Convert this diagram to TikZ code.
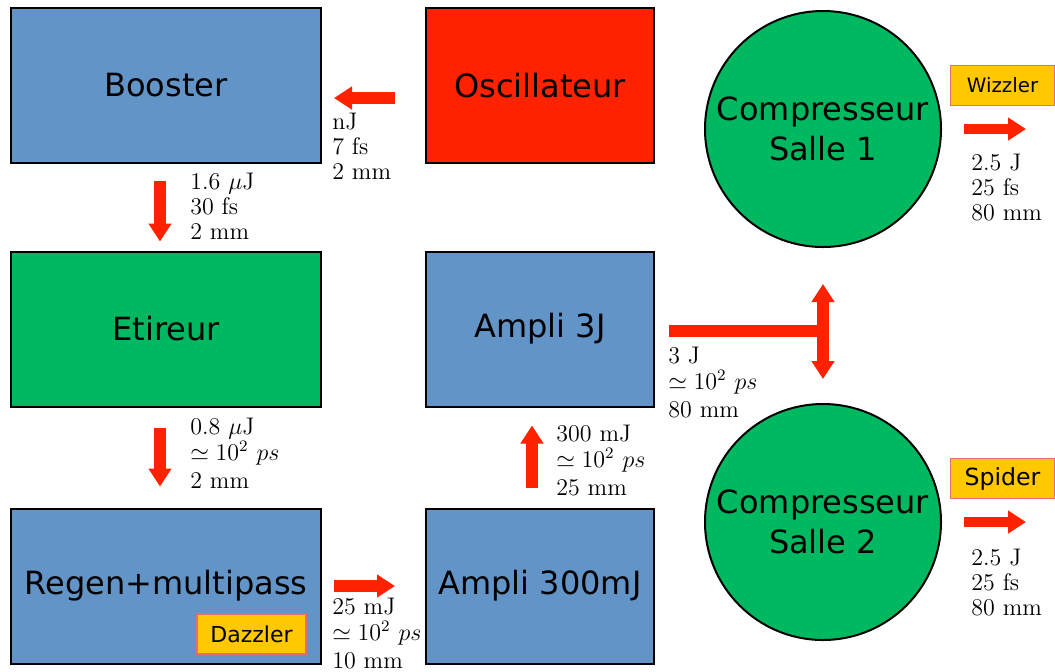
\documentclass[tikz,border=0pt]{standalone}
\usepackage{fontspec}
\usepackage{amsmath,amssymb}
\usetikzlibrary{arrows.meta,positioning}
\newfontfamily\boxfont{DejaVu Sans}
\definecolor{laserblue}{HTML}{6294C8}
\definecolor{lasergreen}{HTML}{00B860}
\definecolor{laserred}{HTML}{FF2200}
\definecolor{tagyellow}{HTML}{FFC800}
\definecolor{tagborder}{HTML}{E07070}

\begin{document}
\begin{tikzpicture}[
  x=0.5pt, y=-0.5pt,
  stage/.style={draw=black, line width=1pt, fill=laserblue, align=center, minimum width=155pt, minimum height=77.5pt, font=\boxfont\fontsize{16}{20}\selectfont},
  wide/.style={stage, minimum width=114pt},
  comp/.style={circle, draw=black, line width=1pt, fill=lasergreen, align=center, minimum size=118pt, inner sep=0pt, font=\boxfont\fontsize{16}{20}\selectfont},
  flow/.style={-{Triangle[length=9pt,width=11pt]}, line width=6pt, draw=laserred},
  bar/.style={line width=6pt, draw=laserred},
  info/.style={font=\fontsize{12}{12.4}\selectfont, align=left, anchor=north west, inner sep=0pt},
  tag/.style={draw=tagborder, fill=tagyellow, line width=0.7pt, minimum width=52pt, minimum height=20pt, inner sep=0pt, font=\boxfont\fontsize{11}{13}\selectfont}
]
\useasboundingbox (0,0) rectangle (1055,671);

% stages
\node[stage] (booster) at (166,85.5) {Booster};
\node[wide, fill=laserred] (osc) at (540,85.5) {Oscillateur};
\node[stage, fill=lasergreen] (etireur) at (166,329) {Etireur};
\node[wide] (amp3) at (540,329) {Ampli 3J};
\node[stage] (regen) at (166,586) {Regen+multipass};
\node[wide] (amp300) at (540,586) {Ampli 300mJ};
\node[comp] (salle1) at (823,129) {Compresseur\\Salle 1};
\node[comp] (salle2) at (823,522) {Compresseur\\Salle 2};

% diagnostics
\node[tag, font=\boxfont\fontsize{9.9}{11}\selectfont] (wizzler) at (1002.5,85.5) {Wizzler};
\node[tag, font=\boxfont\fontsize{11.8}{13}\selectfont] (spider) at (1002.5,478.5) {Spider};
\node[tag, minimum width=54.5pt] (dazzler) at (251.5,634) {Dazzler};

% beam path
\draw[flow, shorten <=15pt, shorten >=6pt] ([yshift=-6.25pt]osc.west) -- ([yshift=-6.25pt]booster.east);
\draw[flow, shorten <=8.5pt, shorten >=4.5pt] ([xshift=-3pt]booster.south) -- ([xshift=-3pt]etireur.north);
\draw[flow, shorten <=10pt, shorten >=10.5pt] ([xshift=-3pt]etireur.south) -- ([xshift=-3pt]regen.north);
\draw[flow, shorten <=6pt, shorten >=15pt] (regen.east) -- (amp300.west);
\draw[flow, shorten <=10pt, shorten >=9pt] ([xshift=-4pt]amp300.north) -- ([xshift=-4pt]amp3.south);
\draw[bar, shorten <=7pt, shorten >=-3pt] ([yshift=-1pt]amp3.east) -- ([yshift=-1pt]amp3.east -| salle1.south);
\draw[flow, {Triangle[length=9pt,width=11pt]}-{Triangle[length=9pt,width=11pt]}, shorten <=18pt, shorten >=12pt] (salle1.south) -- (salle2.north);
\coordinate (out1) at (1026,129);
\coordinate (out2) at (1026,522);
\draw[flow, line width=5pt, shorten <=11pt] (salle1.east) -- (out1);
\draw[flow, line width=5pt, shorten <=11pt] (salle2.east) -- (out2);

% beam parameters
\node[info] (p0) at (332,113) {nJ\\7 fs\\2 mm};
\node[info] (p1) at (190,173) {1.6 $\mu$J\\30 fs\\2 mm};
\node[info] (p2) at (190,418) {0.8 $\mu$J\\[0.5pt]$\simeq 10^2$ $ps$\\[1.5pt]2 mm};
\node[info] (p3) at (332,598) {25 mJ\\[0.5pt]$\simeq 10^2$ $ps$\\[1.5pt]10 mm};
\node[info] (p4) at (556,425) {300 mJ\\[0.5pt]$\simeq 10^2$ $ps$\\[1.5pt]25 mm};
\node[info] (p5) at (668,347) {3 J\\[0.5pt]$\simeq 10^2$ $ps$\\[1.5pt]80 mm};
\node[info] (p6) at (971,154) {2.5 J\\25 fs\\80 mm};
\node[info] (p7) at (971,549) {2.5 J\\25 fs\\80 mm};
\end{tikzpicture}
\end{document}
